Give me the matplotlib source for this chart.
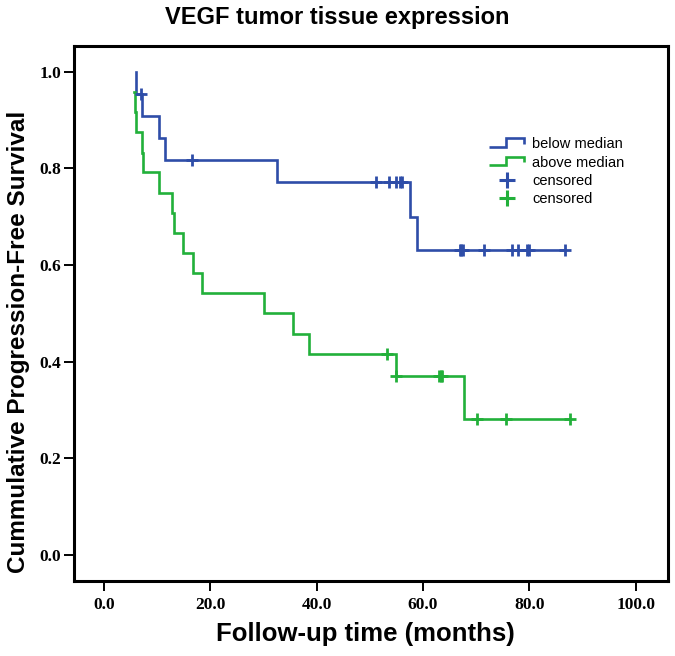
import numpy as np
import matplotlib
matplotlib.use("Agg")
import matplotlib.pyplot as plt
from matplotlib.lines import Line2D
from matplotlib.legend_handler import HandlerBase

# ---- data ----
blue_times = [6.0, 6.0, 7.1, 10.4, 11.5, 32.6, 57.5, 58.8, 86.8]
blue_surv = [1.0, 0.955, 0.909, 0.864, 0.818, 0.771, 0.700, 0.631, 0.631]
blue_censor_times = [6.9, 16.5, 51.1, 53.6, 54.9, 55.6, 56.1, 66.9, 67.2, 67.5,
                     71.4, 76.8, 77.9, 79.6, 79.9, 86.8]

green_times = [5.6, 5.8, 6.1, 7.1, 7.4, 10.4, 12.7, 13.2, 14.8, 16.8, 18.5,
               30.1, 35.6, 38.6, 55.0, 67.8, 87.6]
green_surv = [0.958, 0.917, 0.875, 0.833, 0.792, 0.750, 0.708, 0.667, 0.625,
              0.583, 0.542, 0.500, 0.458, 0.417, 0.370, 0.281, 0.281]
green_censor_times = [53.3, 55.0, 63.0, 63.3, 63.6, 70.2, 75.6, 87.6]

x_ticks = [0, 20, 40, 60, 80, 100]
y_ticks = [0.0, 0.2, 0.4, 0.6, 0.8, 1.0]

series_labels = ["below median", "above median", "censored", "censored"]
title = "VEGF tumor tissue expression"
xlabel = "Follow-up time (months)"
ylabel = "Cummulative Progression-Free Survival"

BLUE = "#2E4DA8"
GREEN = "#22B03A"


def step_value(times, surv, t):
    i = np.searchsorted(np.asarray(times), t, side="right") - 1
    i = max(i, 0)
    return surv[i]


class StepHandler(HandlerBase):
    def create_artists(self, legend, orig_handle, xdescent, ydescent,
                       width, height, fontsize, trans):
        x0 = -xdescent
        y0 = -ydescent
        xs = [x0, x0 + 0.48 * width, x0 + 0.48 * width, x0 + width, x0 + width]
        ys = [y0 + 0.15 * height, y0 + 0.15 * height, y0 + 0.95 * height,
              y0 + 0.95 * height, y0 + 0.45 * height]
        ln = Line2D(xs, ys, color=orig_handle.get_color(),
                    lw=orig_handle.get_linewidth(), transform=trans,
                    solid_joinstyle="miter", solid_capstyle="butt")
        return [ln]


fig = plt.figure(figsize=(6.75, 6.56), dpi=100)
ax = fig.add_axes([0.110, 0.1148, 0.879, 0.8155])

lw = 1.9
ax.step(blue_times, blue_surv, where="post", color=BLUE, lw=lw,
        solid_joinstyle="miter")
ax.step(green_times, green_surv, where="post", color=GREEN, lw=lw,
        solid_joinstyle="miter")

bc_y = [step_value(blue_times, blue_surv, t) for t in blue_censor_times]
gc_y = [step_value(green_times, green_surv, t) for t in green_censor_times]
ax.plot(blue_censor_times, bc_y, linestyle="None", marker="+", ms=9, mew=2,
        color=BLUE)
ax.plot(green_censor_times, gc_y, linestyle="None", marker="+", ms=9, mew=2,
        color=GREEN)

ax.set_xlim(-5.6, 106.0)
ax.set_ylim(-0.053, 1.054)
ax.set_xticks(x_ticks)
ax.set_yticks(y_ticks)
ax.set_xticklabels([f"{v:.1f}" for v in x_ticks])
ax.set_yticklabels([f"{v:.1f}" for v in y_ticks])

for lab in ax.get_xticklabels() + ax.get_yticklabels():
    lab.set_fontfamily("Liberation Serif")
    lab.set_fontweight("bold")
    lab.set_fontsize(12.5)

ax.tick_params(axis="both", direction="out", length=7.5, width=1.4,
               color="black")
ax.tick_params(axis="x", pad=4)
ax.tick_params(axis="y", pad=2)
for s in ax.spines.values():
    s.set_linewidth(2.2)
    s.set_color("black")

fig.text(0.5, 0.974, title, ha="center", va="center",
         family="Liberation Sans", weight="bold", size=17)
fig.text(0.542, 0.034, xlabel, ha="center", va="center",
         family="Liberation Sans", weight="bold", size=18.5)
fig.text(0.027, 0.479, ylabel, ha="center", va="center", rotation=90,
         family="Liberation Sans", weight="bold", size=17.5)

h1 = Line2D([], [], color=BLUE, lw=1.9)
h2 = Line2D([], [], color=GREEN, lw=1.9)
h3 = Line2D([], [], color=BLUE, marker="+", ms=11, mew=2.2, linestyle="None")
h4 = Line2D([], [], color=GREEN, marker="+", ms=11, mew=2.2, linestyle="None")
leg = ax.legend([h1, h2, h3, h4], series_labels,
                handler_map={h1: StepHandler(), h2: StepHandler()},
                loc="upper left", bbox_to_anchor=(0.714, 0.802, 0.0, 0.0),
                bbox_transform=fig.transFigure, frameon=False,
                prop=dict(family="Liberation Sans", size=10.5),
                handlelength=2.4, handletextpad=0.55, labelspacing=0.3,
                borderpad=0)

fig.savefig("out.png", dpi=100)
